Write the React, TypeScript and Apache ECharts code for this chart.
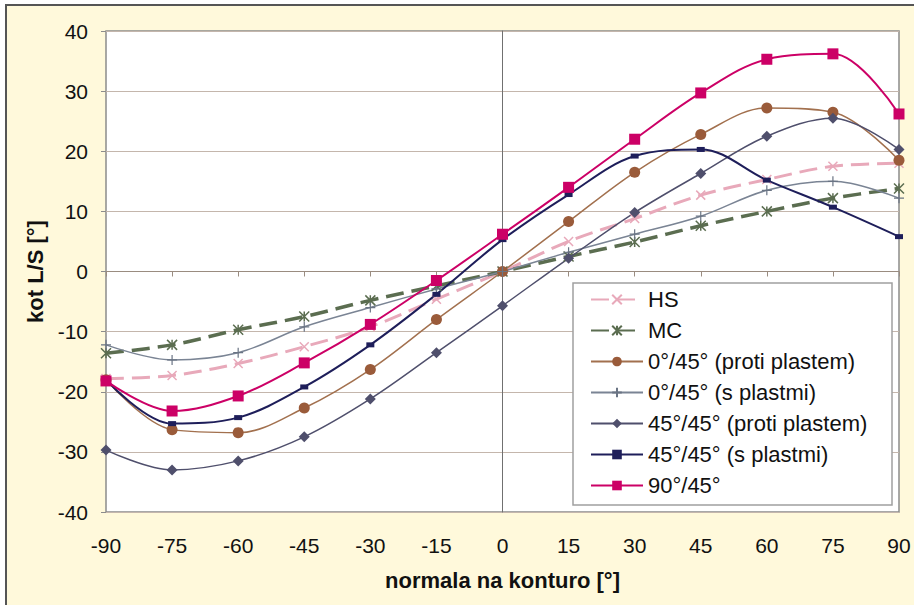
import React, { useEffect, useRef } from "react";
import * as echarts from "echarts";

const xValues = [-90, -75, -60, -45, -30, -15, 0, 15, 30, 45, 60, 75, 90];
const hs = [-17.8, -17.3, -15.3, -12.5, -9.2, -4.6, 0, 5, 8.8, 12.7, 15.3, 17.5, 18];
const mc = [-13.6, -12.2, -9.7, -7.5, -4.8, -2.4, 0, 2.5, 4.9, 7.6, 10, 12.2, 13.8];
const p0Proti = [-18, -26.3, -26.8, -22.7, -16.3, -8, 0, 8.3, 16.5, 22.8, 27.2, 26.5, 18.5];
const p0S = [-12.2, -14.7, -13.5, -9.2, -6, -2.9, 0, 3.2, 6.2, 9.2, 13.5, 15, 12.2];
const p45Proti = [-29.7, -33, -31.5, -27.5, -21.2, -13.5, -5.7, 2.2, 9.8, 16.3, 22.5, 25.5, 20.3];
const p45S = [-18, -25.3, -24.3, -19.2, -12.2, -3.8, 5.3, 12.8, 19.2, 20.3, 15.2, 10.7, 5.8];
const p90 = [-18.2, -23.2, -20.7, -15.2, -8.8, -1.5, 6.2, 14, 22, 29.7, 35.3, 36.2, 26.2];

const seriesNames = [
  "HS",
  "MC",
  "0°/45° (proti plastem)",
  "0°/45° (s plastmi)",
  "45°/45° (proti plastem)",
  "45°/45° (s plastmi)",
  "90°/45°",
];

const FONT = "'Liberation Sans', Arial, sans-serif";

const pair = (ys: number[]) => xValues.map((x, i) => [x, ys[i]]);

export default function App() {
  const ref = useRef<HTMLDivElement>(null);
  useEffect(() => {
    if (!ref.current) return;
    const chart = echarts.init(ref.current, undefined, { renderer: "svg" });
    const SMOOTH = 0.35;
    const mk = (
      name: string,
      data: number[],
      color: string,
      width: number,
      symbol: string,
      symbolSize: any,
      extra: any = {}
    ) => ({
      type: "line",
      name,
      data: pair(data),
      smooth: SMOOTH,
      symbol,
      symbolSize,
      xAxisIndex: 0,
      yAxisIndex: 0,
      lineStyle: { color, width, type: extra.dash || "solid" },
      itemStyle: extra.itemStyle || { color },
      z: extra.z || 2,
    });
    const option: any = {
      animation: false,
      backgroundColor: "transparent",
      textStyle: { fontFamily: FONT },
      grid: {
        left: 106,
        top: 31,
        width: 793,
        height: 481,
        show: true,
        backgroundColor: "#ffffff",
        borderColor: "#8c8c8c",
        borderWidth: 1.5,
        containLabel: false,
      },
      graphic: [
        {
          type: "rect",
          z: 10,
          shape: { x: 573, y: 283, width: 319, height: 222 },
          style: { fill: "#ffffff", stroke: "#a0a0a0", lineWidth: 1.5 },
        },
      ],
      legend: {
        orient: "vertical",
        left: 590,
        top: 288,
        z: 20,
        itemWidth: 52,
        itemHeight: 12,
        itemGap: 8,
        padding: 0,
        data: seriesNames,
        textStyle: { fontSize: 22, color: "#111", fontFamily: FONT, lineHeight: 23 },
      },
      xAxis: [
        {
          type: "value",
          min: -90,
          max: 90,
          interval: 15,
          position: "bottom",
          axisLine: { show: false, onZero: false },
          axisTick: { show: false },
          splitLine: { show: false },
          axisLabel: { fontSize: 21, color: "#111", margin: 23, fontFamily: FONT },
          name: "normala na konturo [°]",
          nameLocation: "middle",
          nameGap: 57,
          nameTextStyle: { fontSize: 22, fontWeight: "bold", color: "#111", fontFamily: FONT },
        },
        {
          type: "value",
          min: -90,
          max: 90,
          interval: 15,
          position: "bottom",
          axisLine: { show: true, onZero: true, onZeroAxisIndex: 0, lineStyle: { color: "#9a8c80", width: 1 } },
          axisTick: { show: true, inside: false, length: 5, lineStyle: { color: "#9a8c80" } },
          axisLabel: { show: false },
          splitLine: { show: false },
        },
      ],
      yAxis: [
        {
          type: "value",
          min: -40,
          max: 40,
          interval: 10,
          position: "left",
          axisLine: { show: false, onZero: false },
          axisTick: { show: true, inside: false, length: 5, lineStyle: { color: "#8c8c8c" } },
          splitLine: { show: true, lineStyle: { color: "#c4b6ac", width: 1 } },
          axisLabel: { fontSize: 21, color: "#111", margin: 18, fontFamily: FONT },
          name: "kot L/S [°]",
          nameLocation: "middle",
          nameGap: 57,
          nameTextStyle: { fontSize: 22, fontWeight: "bold", color: "#111", fontFamily: FONT },
        },
        {
          type: "value",
          min: -40,
          max: 40,
          interval: 10,
          position: "left",
          axisLine: { show: true, onZero: true, onZeroAxisIndex: 0, lineStyle: { color: "#707070", width: 1 } },
          axisTick: { show: false },
          axisLabel: { show: false },
          splitLine: { show: false },
        },
      ],
      series: [
        mk(seriesNames[0], hs, "#e8a9ba", 3, "path://M0,0L10,10M10,0L0,10", 9, {
          dash: [18, 8],
          itemStyle: { color: "#e8a9ba", borderColor: "#e8a9ba", borderWidth: 1.5 },
        }),
        mk(seriesNames[1], mc, "#5b6d50", 3.5, "path://M0,0L10,10M10,0L0,10M5,0L5,10", 10, {
          dash: [18, 8],
          itemStyle: { color: "#5b6d50", borderColor: "#5b6d50", borderWidth: 1.5 },
        }),
        mk(seriesNames[2], p0Proti, "#a2704e", 1.5, "circle", 11, {
          itemStyle: { color: "#9a5b3a" },
        }),
        mk(seriesNames[3], p0S, "#7a8494", 1.5, "path://M5,0L5,10M0,5L10,5", 10, {
          itemStyle: { color: "#7a8494", borderColor: "#6a7484", borderWidth: 1.2 },
        }),
        mk(seriesNames[4], p45Proti, "#4f4f6c", 1.5, "diamond", 11, {
          itemStyle: { color: "#4f4f6c" },
        }),
        mk(seriesNames[5], p45S, "#1e1e5a", 2, "rect", [8, 5], {
          itemStyle: { color: "#1e1e5a" },
        }),
        mk(seriesNames[6], p90, "#cc0066", 2, "rect", 11, {
          itemStyle: { color: "#cc0066" },
        }),
      ],
    };
    chart.setOption(option);
    return () => chart.dispose();
  }, []);
  return (
    <div style={{ position: "absolute", left: 0, top: 0, width: 914, height: 605, background: "#ffffff" }}>
      <div
        style={{
          position: "absolute",
          left: 5,
          top: 4,
          width: 909,
          height: 601,
          background: "#fff9db",
          borderLeft: "2px solid #555",
          borderTop: "2px solid #555",
          boxSizing: "border-box",
        }}
      />
      <div ref={ref} style={{ position: "absolute", left: 0, top: 0, width: 914, height: 605 }} />
    </div>
  );
}
